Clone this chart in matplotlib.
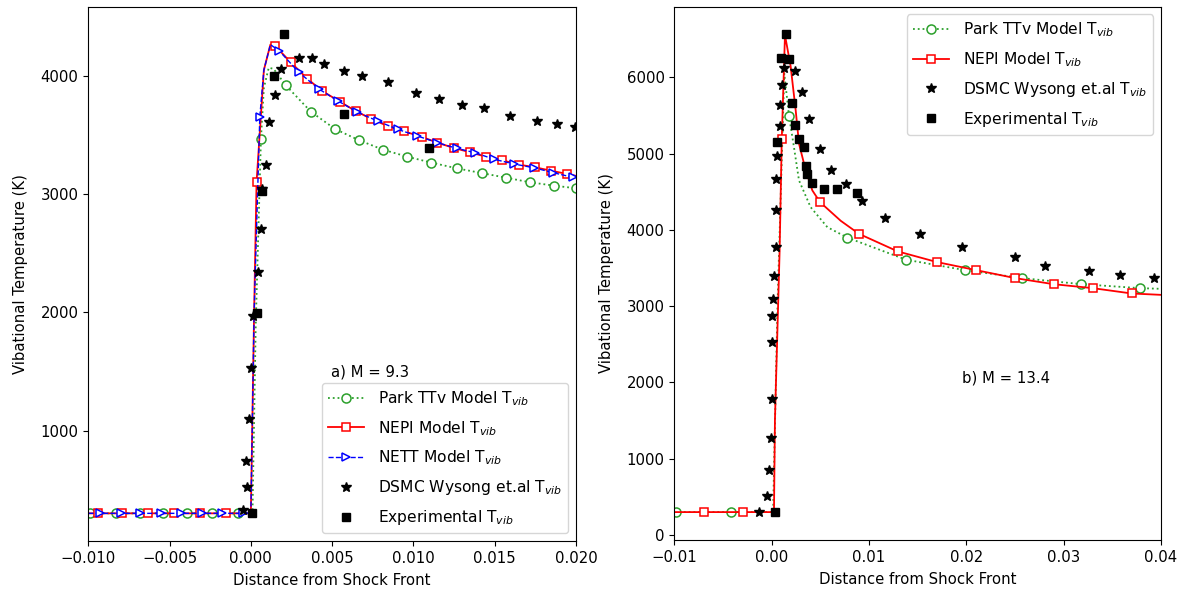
import numpy as np
import matplotlib
matplotlib.use("Agg")
import matplotlib.pyplot as plt
from matplotlib.lines import Line2D

plt.rcParams["font.family"] = "DejaVu Sans"
plt.rcParams["font.size"] = 10.7
plt.rcParams["mathtext.fontset"] = "dejavusans"

# ---------------- a) M = 9.3 ----------------
park_a_mx = [-0.0099, -0.0083, -0.0068, -0.0054, -0.0039, -0.0024, -0.0008,
             0.00062, 0.00215, 0.00369, 0.00517, 0.00666, 0.00812, 0.00962,
             0.01111, 0.01265, 0.01419, 0.01567, 0.01716, 0.01866, 0.0200]
park_a_my = [300, 300, 300, 300, 300, 300, 300,
             3467, 3921, 3698, 3552, 3456, 3377, 3317,
             3267, 3219, 3179, 3140, 3101, 3072, 3050]
park_a_cx = [-0.0100, 0.0001, 0.0003, 0.0008, 0.0011, 0.0014]
park_a_cy = [300, 300, 1900, 3900, 4070, 4060]

nepi_a_mx = [-0.0094, -0.0079, -0.0063, -0.0047, -0.00314, -0.00156,
             0.00035, 0.00148, 0.00244, 0.00347, 0.00439, 0.00547, 0.00644,
             0.00742, 0.00841, 0.00941, 0.0105, 0.01146, 0.01249, 0.01347,
             0.01446, 0.01546, 0.01649, 0.01747, 0.01845, 0.01946]
nepi_a_my = [300, 300, 300, 300, 300, 300,
             3101, 4256, 4118, 3977, 3873, 3783, 3704,
             3636, 3577, 3532, 3486, 3436, 3391, 3355,
             3317, 3287, 3250, 3228, 3199, 3171]
nepi_a_cx = [-0.0100, 0.0, 0.0002, 0.0008, 0.0012, 0.0200]
nepi_a_cy = [300, 300, 2000, 4050, 4265, 3155]

nett_a_mx = [-0.0093, -0.0080, -0.0068, -0.0055, -0.0043, -0.00303, -0.00177,
             -0.00051, 0.00055, 0.00174, 0.00295, 0.00418, 0.00537, 0.00654,
             0.00779, 0.00902, 0.01025, 0.01148, 0.01265, 0.01378, 0.01497,
             0.0162, 0.01743, 0.0186, 0.01979]
nett_a_my = [300, 300, 300, 300, 300, 300, 300,
             300, 3656, 4214, 4031, 3890, 3788, 3695,
             3619, 3549, 3492, 3436, 3388, 3351, 3295,
             3255, 3223, 3182, 3143]
nett_a_cx = [-0.0100, 0.0, 0.0002, 0.0008, 0.0012, 0.0200]
nett_a_cy = [300, 300, 2000, 4050, 4265, 3140]

dsmc_a_x = [-0.00047, -0.00026, -0.00031, -0.0001, 0.0, 0.00014, 0.00041,
            0.00062, 0.0007, 0.00092, 0.00113, 0.00148, 0.00183, 0.00295,
            0.00373, 0.00451, 0.00574, 0.00685, 0.00845, 0.01015, 0.01158,
            0.013, 0.01433, 0.01595, 0.01761, 0.01881, 0.01993]
dsmc_a_y = [330, 520, 740, 1100, 1530, 1970, 2344,
            2703, 3042, 3247, 3613, 3839, 4059, 4155,
            4152, 4104, 4045, 4003, 3947, 3859, 3803,
            3757, 3729, 3659, 3622, 3591, 3571]

exp_a_x = [0.00004, 0.00035, 0.00066, 0.00141, 0.00205, 0.00572, 0.01095]
exp_a_y = [301, 1998, 3027, 4000, 4353, 3679, 3388]

# ---------------- b) M = 13.4 ----------------
park_b_mx = [-0.00987, -0.00414, 0.00178, 0.00777, 0.01381, 0.01982,
             0.02576, 0.03183, 0.03784]
park_b_my = [300, 300, 5500, 3900, 3610, 3474, 3368, 3289, 3237]
park_b_cx = [-0.0100, 0.00015, 0.0006, 0.0013, 0.00229, 0.00281, 0.004,
             0.00572, 0.0400]
park_b_cy = [300, 300, 3000, 6050, 5088, 4650, 4300, 4037, 3228]

nepi_b_mx = [-0.0069, -0.0029, 0.00104, 0.00497, 0.00896, 0.01295, 0.01698,
             0.02097, 0.02504, 0.02896, 0.03299, 0.03698]
nepi_b_my = [300, 300, 5190, 4365, 3950, 3719, 3579,
             3474, 3368, 3289, 3237, 3167]
nepi_b_cx = [-0.0100, 0.00024, 0.00034, 0.00082, 0.00137, 0.00195, 0.00247,
             0.00281, 0.0035, 0.00418, 0.0071, 0.0400]
nepi_b_cy = [300, 300, 1511, 3728, 6556, 6148, 5570,
             5132, 4782, 4519, 4120, 3149]

dsmc_b_x = [-0.0013, -0.0005, -0.00026, -0.0001, 0.0, 0.00004,
            0.00007, 0.0001, 0.00029, 0.00041, 0.00048, 0.00048, 0.00058,
            0.00082, 0.00082, 0.0011, 0.00127, 0.00239, 0.00308, 0.00383,
            0.00496, 0.00606, 0.00761, 0.00932, 0.0116, 0.01529, 0.0196,
            0.02504, 0.02813, 0.03263, 0.03579, 0.03924]
dsmc_b_y = [298, 515, 848, 1275, 1787, 2535,
            2873, 3096, 3399, 3774, 4256, 4673, 4966,
            5360, 5645, 5899, 6118, 6083, 5811, 5461,
            5067, 4791, 4598, 4378, 4163, 3947, 3776,
            3640, 3522, 3465, 3412, 3368]

exp_b_x = [0.00034, 0.00058, 0.00092, 0.00144, 0.00178, 0.00213, 0.0024,
           0.00281, 0.00332, 0.00349, 0.00367, 0.00418, 0.00538, 0.00675,
           0.00881]
exp_b_y = [300, 5154, 6250, 6565, 6237, 5671, 5382,
           5198, 5088, 4838, 4739, 4615, 4541, 4532, 4489]

GREEN = "#2ca02c"
TV = r"T$_{vib}$"


def merged(mx, my, cx, cy):
    # curve passes through the marker points plus the extra shape points
    x = np.concatenate([mx, cx])
    y = np.concatenate([my, cy])
    order = np.argsort(x, kind="stable")
    return x[order], y[order]


def model(ax, mx, my, cx, cy, color, ls, lw, marker, ms):
    x, y = merged(mx, my, cx, cy)
    ax.plot(x, y, color=color, ls=ls, lw=lw)
    ax.plot(mx, my, ls="none", marker=marker, ms=ms, mec=color,
            mfc="white", mew=1.1)
    return Line2D([], [], color=color, ls=ls, lw=lw, marker=marker, ms=ms,
                  mec=color, mfc="white", mew=1.1)


leg_kw = dict(fontsize=11.2, labelspacing=0.7, handlelength=2.3,
              handletextpad=0.9)

fig = plt.figure(figsize=(11.9, 5.93), dpi=100)
ax1 = fig.add_axes([88.3 / 1190, 52 / 593, 487.7 / 1190, 533.7 / 593])
ax2 = fig.add_axes([674.3 / 1190, 53 / 593, 486.7 / 1190, 533.3 / 593])

# left
h1 = model(ax1, park_a_mx, park_a_my, park_a_cx, park_a_cy, GREEN, ":", 1.3, "o", 6.5)
h2 = model(ax1, nepi_a_mx, nepi_a_my, nepi_a_cx, nepi_a_cy, "red", "-", 1.3, "s", 6)
h3 = model(ax1, nett_a_mx, nett_a_my, nett_a_cx, nett_a_cy, "blue", "--", 1.0, ">", 6)
h4, = ax1.plot(dsmc_a_x, dsmc_a_y, "k*", ms=7.5, ls="none")
h5, = ax1.plot(exp_a_x, exp_a_y, "ks", ms=6, ls="none")
ax1.set_xlim(-0.01, 0.02)
ax1.set_ylim(66, 4581)
ax1.set_xlabel("Distance from Shock Front", labelpad=5)
ax1.set_ylabel("Vibational Temperature (K)", labelpad=9)
ax1.text(0.498, 0.317, "a) M = 9.3", transform=ax1.transAxes, va="center")
ax1.legend([h1, h2, h3, h4, h5],
           ["Park TTv Model " + TV, "NEPI Model " + TV, "NETT Model " + TV,
            "DSMC Wysong et.al " + TV, "Experimental " + TV],
           loc="lower right", **leg_kw)

# right
g1 = model(ax2, park_b_mx, park_b_my, park_b_cx, park_b_cy, GREEN, ":", 1.3, "o", 6.5)
g2 = model(ax2, nepi_b_mx, nepi_b_my, nepi_b_cx, nepi_b_cy, "red", "-", 1.3, "s", 6)
g3, = ax2.plot(dsmc_b_x, dsmc_b_y, "k*", ms=7.5, ls="none")
g4, = ax2.plot(exp_b_x, exp_b_y, "ks", ms=6, ls="none")
ax2.set_xlim(-0.01, 0.04)
ax2.set_ylim(-66, 6928)
ax2.set_xlabel("Distance from Shock Front", labelpad=5)
ax2.set_ylabel("Vibational Temperature (K)", labelpad=9)
ax2.text(0.591, 0.304, "b) M = 13.4", transform=ax2.transAxes, va="center")
ax2.legend([g1, g2, g3, g4],
           ["Park TTv Model " + TV, "NEPI Model " + TV,
            "DSMC Wysong et.al " + TV, "Experimental " + TV],
           loc="upper right", **leg_kw)

fig.savefig("out.png", dpi=100)
